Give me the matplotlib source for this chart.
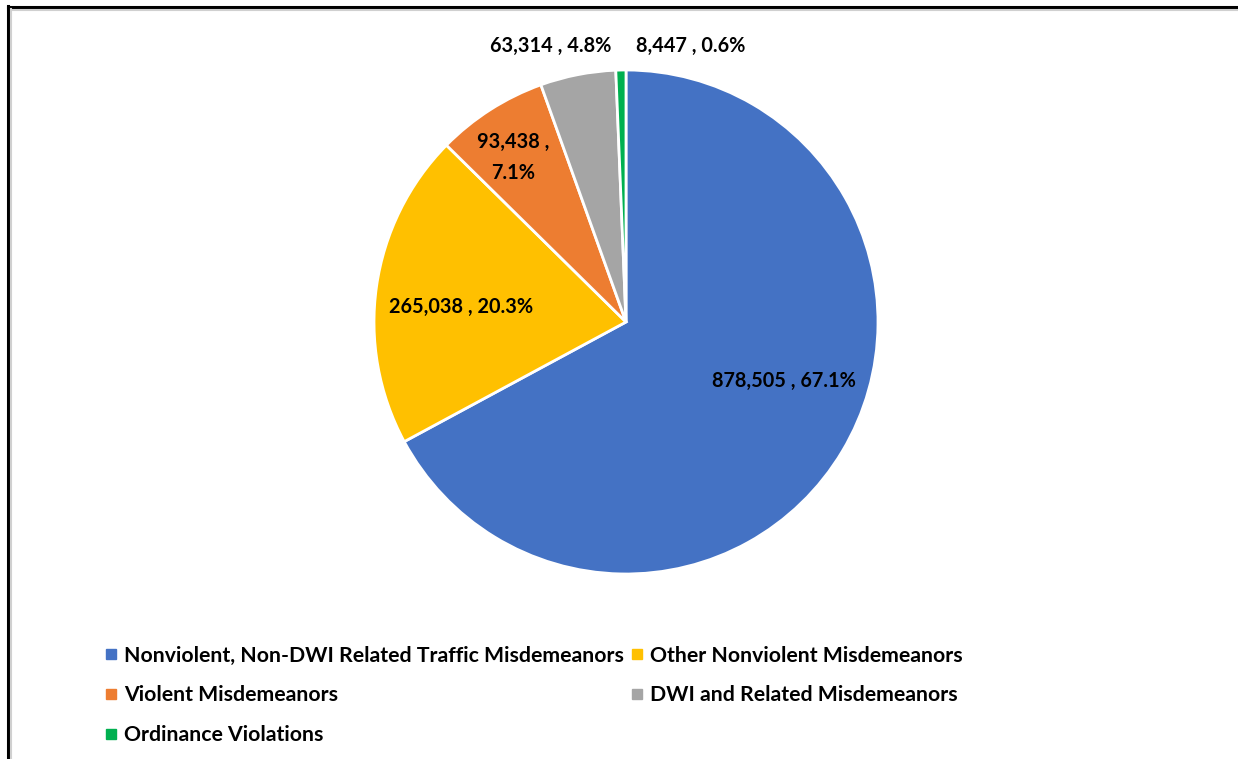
import matplotlib.pyplot as plt
from matplotlib.lines import Line2D

categories = [
    "Nonviolent, Non-DWI Related Traffic Misdemeanors",
    "Other Nonviolent Misdemeanors",
    "Violent Misdemeanors",
    "DWI and Related Misdemeanors",
    "Ordinance Violations",
]
counts = [878505, 265038, 93438, 63314, 8447]
colors = ["#4472C4", "#FFC000", "#ED7D31", "#A5A5A5", "#00B050"]

# where each data label sits, in pie units (radius = 1)
label_pos = [(0.627, -0.234), (-0.655, 0.06), (-0.448, 0.652), (-0.30, 1.095), (0.258, 1.095)]
label_wrap = [False, False, True, False, False]

plt.rcParams["font.family"] = ["Lato", "DejaVu Sans"]

W, H = 1238, 759
fig = plt.figure(figsize=(W / 100, H / 100), dpi=100)

cx, cy, r = 626, 322, 252
ax = fig.add_axes([(cx - r) / W, 1 - (cy + r) / H, 2 * r / W, 2 * r / H])
wedges, _ = ax.pie(counts, colors=colors, startangle=90, counterclock=False,
                   wedgeprops=dict(edgecolor="white", linewidth=2))
ax.set_xlim(-1, 1)
ax.set_ylim(-1, 1)
ax.set_aspect("equal")
ax.set_clip_on(False)

total = sum(counts)
for v, (x, y), wrap in zip(counts, label_pos, label_wrap):
    pct = 100 * v / total
    sep = " ,\n" if wrap else " , "
    ax.text(x, y, f"{v:,}{sep}{pct:.1f}%", ha="center", va="center",
            fontsize=14.3, fontweight="bold", color="black", linespacing=1.67)

# legend laid out column-first: blue, orange, green | yellow, gray
order = [0, 2, 4, 1, 3]
handles = [Line2D([], [], marker="s", linestyle="none", markersize=7.5,
                  markerfacecolor=colors[i], markeredgecolor=colors[i]) for i in order]
fig.legend(handles, [categories[i] for i in order], ncol=2, frameon=False,
           loc="upper left", bbox_to_anchor=(96 / W, 1 - 637 / H),
           prop=dict(size=15.3, weight="bold"), handlelength=0.6, handletextpad=0.3,
           columnspacing=0.35, labelspacing=0.93, borderaxespad=0)

# partial frame at the top and left edges
fig.add_artist(Line2D([8 / W, 1], [1 - 7 / H, 1 - 7 / H], color="black", lw=2.2))
fig.add_artist(Line2D([8 / W, 1], [1 - 9.5 / H, 1 - 9.5 / H], color="#d0d0d0", lw=1.5))
fig.add_artist(Line2D([8 / W, 8 / W], [0, 1 - 6 / H], color="black", lw=2.2))
fig.add_artist(Line2D([10.5 / W, 10.5 / W], [0, 1 - 9 / H], color="#d0d0d0", lw=1.5))

fig.savefig("out.png", dpi=100)
